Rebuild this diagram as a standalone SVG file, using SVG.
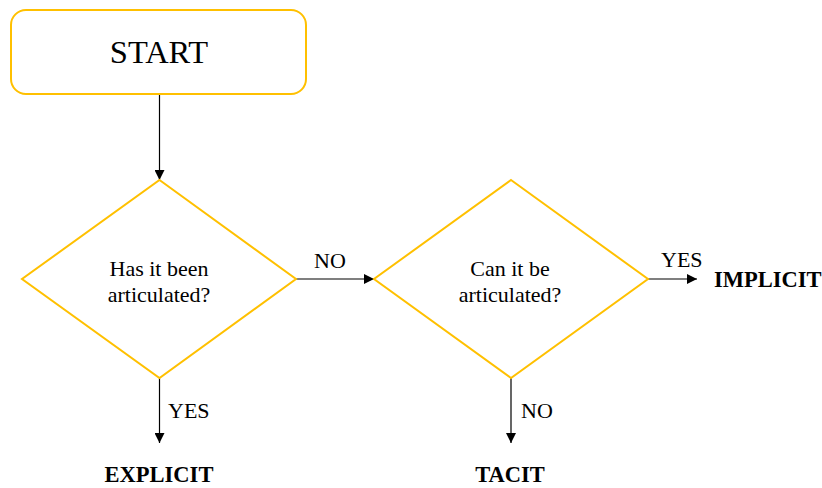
<svg xmlns="http://www.w3.org/2000/svg" width="822" height="488" viewBox="0 0 822 488" font-family="'Liberation Serif', 'Times New Roman', 'DejaVu Serif', serif">
  <style>
    .shape { fill: #ffffff; stroke: #FFC000; stroke-width: 2; }
    .edge { fill: none; stroke: #000000; stroke-width: 1.2; }
    text { font-family: 'Liberation Serif', 'Times New Roman', 'DejaVu Serif', serif; fill: #000000; }
    .q { font-size: 22px; text-anchor: middle; }
    .lbl { font-size: 22px; }
    .end { font-size: 22.5px; font-weight: bold; }
  </style>
  <defs>
    <marker id="arrow" viewBox="0 0 10 10" refX="10" refY="5" markerWidth="10" markerHeight="10" markerUnits="userSpaceOnUse" orient="auto">
      <path d="M0,0 L10,5 L0,10 Z" fill="#000000"/>
    </marker>
  </defs>

  <g id="connectors">
    <line class="edge" x1="159.5" y1="94" x2="159.5" y2="180" marker-end="url(#arrow)"/>
    <line class="edge" x1="296" y1="279" x2="374" y2="279" marker-end="url(#arrow)"/>
    <line class="edge" x1="648" y1="279" x2="697" y2="279" marker-end="url(#arrow)"/>
    <line class="edge" x1="159.5" y1="378" x2="159.5" y2="443" marker-end="url(#arrow)"/>
    <line class="edge" x1="511" y1="378" x2="511" y2="443" marker-end="url(#arrow)"/>
    <text class="lbl" x="314" y="268">NO</text>
    <text class="lbl" x="661" y="267">YES</text>
    <text class="lbl" x="168" y="418">YES</text>
    <text class="lbl" x="521" y="418">NO</text>
  </g>

  <g id="start">
    <rect class="shape" x="11" y="10" width="295" height="84" rx="15" ry="15"/>
    <text x="159" y="63" font-size="32.5" text-anchor="middle">START</text>
  </g>

  <g id="q-articulated">
    <polygon class="shape" points="159.5,180 296,279 159.5,378 22,279"/>
    <text class="q" x="159" y="276">Has it been</text>
    <text class="q" x="159" y="302">articulated?</text>
  </g>

  <g id="q-can-articulate">
    <polygon class="shape" points="511,180 648,279 511,378 374,279"/>
    <text class="q" x="510" y="276">Can it be</text>
    <text class="q" x="510" y="302">articulated?</text>
  </g>

  <g id="implicit">
    <text class="end" x="714" y="287">IMPLICIT</text>
  </g>

  <g id="explicit">
    <text class="end" x="159" y="482" text-anchor="middle">EXPLICIT</text>
  </g>

  <g id="tacit">
    <text class="end" x="510" y="482" text-anchor="middle">TACIT</text>
  </g>
</svg>
